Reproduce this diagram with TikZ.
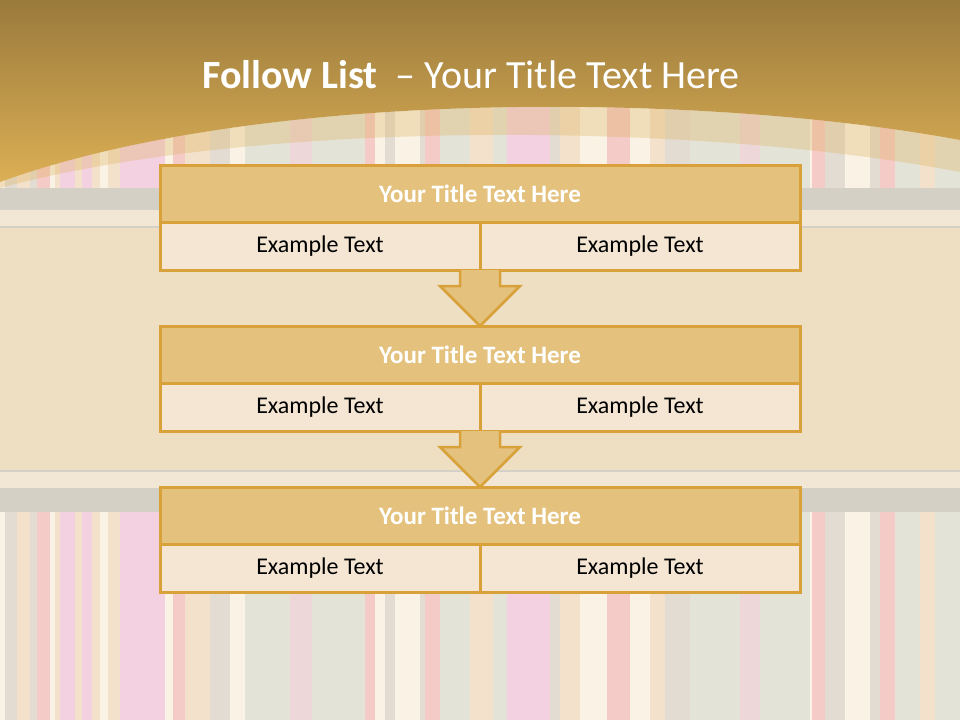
\documentclass[tikz,border=0pt]{standalone}
\usepackage{fontspec}
\setmainfont{Carlito}

\definecolor{hdtop}{HTML}{9A7A3C}
\definecolor{hdbot}{HTML}{DCAF55}
\definecolor{rim}{HTML}{D9A13A}
\definecolor{titlefill}{HTML}{E4C27E}
\definecolor{cellfill}{HTML}{F4E6D3}
\definecolor{paper}{HTML}{EEDFC3}
\definecolor{paperlight}{HTML}{F2E7D4}
\definecolor{band}{HTML}{D5D0C6}
\definecolor{base}{HTML}{F1E3CF}
% stripe colours
\definecolor{pk}{HTML}{F3CADB}
\definecolor{sl}{HTML}{F4C2BE}
\definecolor{cr}{HTML}{FAF0E1}
\definecolor{pc}{HTML}{F1DCC3}
\definecolor{gg}{HTML}{E0DFD0}
\definecolor{gy}{HTML}{DDD6CB}
\definecolor{pg}{HTML}{EAD0D3}

\begin{document}
\begin{tikzpicture}[x=1pt, y=-1pt,
    title_style/.style={rectangle, draw=rim, line width=3pt, fill=titlefill,
        minimum width=640, minimum height=57, inner sep=0pt, outer sep=0pt,
        text=white, font=\fontsize{25}{30}\selectfont\bfseries},
    cell_style/.style={rectangle, draw=rim, line width=3pt, fill=cellfill,
        minimum width=320, minimum height=48, inner sep=0pt, outer sep=0pt,
        font=\fontsize{24}{29}\selectfont},
    block_arrow/.style={draw=rim, line width=2.5pt, fill=titlefill, line join=miter}
]
\useasboundingbox (0,0) rectangle (960,720);

% background
\fill[base] (0,0) rectangle (960,720);
\begin{scope}
  \clip (0,90) rectangle (960,188) (0,512) rectangle (960,720);
  \foreach \x/\w/\c in {0/5/cr, 5/12/gy, 17/13/pc, 30/7/gy, 37/13/sl, 50/5/cr,
      55/5/pc, 60/15/pk, 75/7/pc, 82/10/pk, 92/8/pc, 100/8/cr, 108/12/pc,
      120/45/pk, 165/8/cr, 173/12/sl, 185/25/pc, 210/20/gy, 230/15/cr,
      245/45/gg, 290/22/pg, 312/53/gg, 365/10/sl, 375/10/cr, 385/10/gy,
      395/30/cr, 420/5/gy, 425/15/sl, 440/30/gg, 470/23/pc, 493/14/gg,
      507/43/pk, 550/10/gy, 560/20/pc, 580/27/cr, 607/23/sl, 630/20/cr,
      650/15/pc, 665/25/gy, 690/50/gg, 740/20/pg, 760/50/gg, 810/2/cr,
      812/13/sl, 825/20/gy, 845/25/cr, 870/10/gy, 880/15/sl, 895/25/gg,
      920/15/pc, 935/25/gg}
    \fill[\c] (\x,90) rectangle ++(\w,630);
  \fill[white, opacity=0.15] (0,90) rectangle (960,720);
\end{scope}
\fill[band] (0,188) rectangle (960,210);
\fill[band] (0,488) rectangle (960,512);
\fill[paperlight] (0,210) rectangle (960,228);
\fill[paper] (0,228) rectangle (960,470);
\fill[paperlight] (0,470) rectangle (960,488);
\draw[band, line width=2pt] (0,227) -- (960,227);
\draw[band, line width=2pt] (0,471) -- (960,471);

% header
\fill[hdbot, opacity=0.3] (960,140) .. controls (700,92) and (260,88) .. (0,182)
    -- (0,188) .. controls (260,118) and (700,122) .. (960,172) -- cycle;
\shade[top color=hdtop, bottom color=hdbot] (0,0) -- (960,0) -- (960,140)
    .. controls (700,92) and (260,88) .. (0,182) -- cycle;
\node[text=white, font=\fontsize{40}{48}\selectfont] (heading) at (471,75)
    {\textbf{Follow List}\ \ – Your Title Text Here};

% blocks
\foreach \i/\y in {1/165, 2/326, 3/487} {
  \node[title_style, anchor=north] (t\i) at (480,\y) {Your Title Text Here};
  \node[cell_style, anchor=north east] (l\i) at (t\i.south) {Example Text};
  \node[cell_style, anchor=north west] (r\i) at (t\i.south) {Example Text};
}

% arrows between blocks
\foreach \i in {1,2} {
  \draw[block_arrow] (l\i.south east) ++(-20,0) -- ++(0,16) -- ++(-20,0)
      -- ++(40,40) -- ++(40,-40) -- ++(-20,0) -- ++(0,-16);
}
\end{tikzpicture}
\end{document}
